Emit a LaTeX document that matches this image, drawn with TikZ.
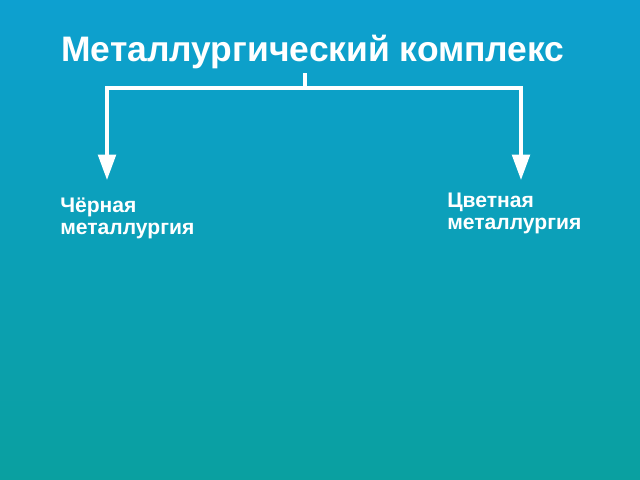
\documentclass[tikz,border=0pt]{standalone}
\usepackage{fontspec}
\setmainfont{Liberation Sans}
\usetikzlibrary{arrows.meta}
\definecolor{sfondoalto}{RGB}{13,160,208}
\definecolor{sfondobasso}{RGB}{10,160,160}
\begin{document}
\begin{tikzpicture}[x=0.025cm, y=-0.025cm,
    freccia/.style={draw=white, line width=2.4pt, -{Triangle[width=12.5pt,length=18pt]}},
    linea/.style={draw=white, line width=2.4pt},
    voce/.style={text=white, font=\bfseries\fontsize{15}{15.4}\selectfont, align=left, inner sep=0pt, anchor=base west}]
        % Sfondo
        \shade[top color=sfondoalto, bottom color=sfondobasso] (0,0) rectangle (640,480);
        \useasboundingbox (0,0) rectangle (640,480);

        % Titolo
        \node (T) at (313,61) [anchor=base, text=white, inner sep=0pt, font=\bfseries\fontsize{25.2}{30}\selectfont] {Металлургический комплекс};

        % Rami
        \coordinate (P) at (305,73);
        \coordinate (Q) at (305,88);
        \coordinate (L) at (107,88);
        \coordinate (R) at (521,88);
        \coordinate (LF) at (107,180);
        \coordinate (RF) at (521,180);

        % Voci inferiori
        \node (N) at (60,234) [voce] {Чёрная\\металлургия};
        \node (C) at (447,229) [voce] {Цветная\\металлургия};

        % Collegamenti
        \draw[linea] (P) -- (Q);
        \draw[linea, line cap=rect] (L) -- (R);
        \draw[freccia] (L) -- (LF);
        \draw[freccia] (R) -- (RF);
\end{tikzpicture}
\end{document}
